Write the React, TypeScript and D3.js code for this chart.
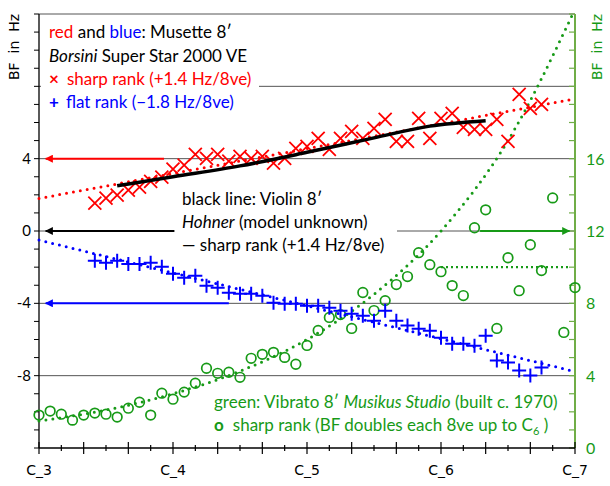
import { useEffect, useRef } from 'react';
import * as d3 from 'd3';

// x positions: semitones above C_3 (0 = C_3 ... 48 = C_7)
const octaveLabels = ['C_3', 'C_4', 'C_5', 'C_6', 'C_7'];
const leftTickLabels = [-8, -4, 0, 4];
const rightTickLabels = [0, 4, 8, 12, 16];
const gridValues = [-8, -4, 0, 4, 8, 12];

// Musette 8' (Borsini Super Star 2000 VE), keys F3..A6, BF in Hz (left axis)
const musetteKeys = d3.range(5, 46);
const sharpRank = [
  1.54, 1.82, 1.98, 2.26, 2.42, 2.75, 2.98, 3.42, 3.64, 4.24,
  4.02, 4.24, 3.86, 4.13, 4.02, 4.13, 3.75, 4.02, 4.57, 4.68,
  5.12, 4.52, 5.12, 5.51, 5.12, 5.67, 6.17, 4.96, 4.96, 6.23,
  5.12, 6.23, 6.5, 5.73, 5.62, 5.62, 6.17, 4.96, 7.55, 6.78, 7.0
];
const flatRank = [
  -1.65, -1.76, -1.65, -1.82, -1.82, -1.76, -1.98, -2.37, -2.59, -2.48,
  -3.03, -3.14, -3.42, -3.47, -3.47, -3.58, -3.97, -4.02, -4.02, -4.13,
  -4.13, -4.24, -4.41, -4.57, -4.68, -4.96, -4.41, -4.96, -5.23, -5.4,
  -5.51, -5.9, -6.23, -6.23, -6.34, -5.79, -7.16, -7.27, -7.71, -7.99, -7.55
];
const sharpTrend = [[0, 1.8], [47.5, 7.25]];
const flatTrend = [[0, -0.5], [47.5, -7.7]];

// Violin 8' Hohner, sharp rank (left axis)
const violinKeys = [7, 12, 18, 24, 30, 35, 40];
const violinBF = [2.5, 3.0, 3.6, 4.35, 5.15, 5.8, 6.1];

// Vibrato 8' Musikus Studio, keys C3..C7 (right axis)
const vibratoKeys = d3.range(0, 49);
const vibratoBF = [
  1.82, 2.04, 1.87, 1.54, 1.82, 1.93, 1.87, 1.71, 2.2, 2.53,
  1.82, 3.03, 2.7, 3.09, 3.58, 4.41, 4.13, 4.19, 3.91, 4.96,
  5.18, 5.29, 5.01, 4.63, 5.67, 6.5, 7.22, 7.38, 6.61, 8.6,
  7.6, 8.15, 9.04, 9.48, 10.8, 10.14, 9.75, 8.98, 8.43, 12.18,
  13.17, 6.61, 10.52, 8.7, 11.24, 9.81, 13.83, 6.39, 8.87
];
const vibratoTrendKeys = [0, 6, 12, 18, 24, 30, 36, 42, 47.8];
const vibratoTrendBF = [1.5, 2.1, 3, 4.25, 6, 8.5, 12, 17, 24];
const vibratoLimit = [[36, 10], [47.5, 10]];

const RED = '#ff0000';
const BLUE = '#0000ff';
const GREEN = '#179a17';
const GREEN_AXIS = '#70ad47';

const arrows = [
  { color: RED, axis: 'left', value: 4, from: 11.2, to: 0.6 },
  { color: '#000', axis: 'left', value: 0, from: 12.1, to: 0.6 },
  { color: BLUE, axis: 'left', value: -4, from: 17, to: 0.6 },
  { color: GREEN, axis: 'right', value: 12, from: 39.5, to: 47.5 }
];

export default function App() {
  const svgRef = useRef(null);

  useEffect(() => {
    const width = 610;
    const height = 486;
    const svg = d3.select(svgRef.current);
    svg.selectAll('*').remove();
    svg.attr('width', width).attr('height', height);

    const x = d3.scaleLinear().domain([0, 48]).range([39, 575]);
    const yL = d3.scaleLinear().domain([-12, 12]).range([448, 14]);
    const yR = d3.scaleLinear().domain([0, 24]).range([448, 14]);
    const font = 'Lato, "Open Sans", sans-serif';

    const defs = svg.append('defs');
    arrows.forEach((a, i) => {
      defs.append('marker')
        .attr('id', `arrow${i}`)
        .attr('viewBox', '0 0 10 10')
        .attr('refX', 9)
        .attr('refY', 5)
        .attr('markerWidth', 5)
        .attr('markerHeight', 4)
        .attr('markerUnits', 'strokeWidth')
        .attr('orient', 'auto')
        .append('path')
        .attr('d', 'M0,0L10,5L0,10z')
        .attr('fill', a.color);
    });

    // horizontal grid
    gridValues.forEach(v => {
      svg.append('line')
        .attr('x1', x(0)).attr('x2', x(48))
        .attr('y1', yL(v)).attr('y2', yL(v))
        .attr('stroke', '#555').attr('stroke-width', 1);
    });

    // legend backgrounds hide the grid
    svg.append('rect').attr('x', 41).attr('y', 16).attr('width', 218).attr('height', 97).attr('fill', '#fff');
    svg.append('rect').attr('x', 175).attr('y', 184).attr('width', 222).attr('height', 72).attr('fill', '#fff');

    // left axis
    svg.append('line').attr('x1', x(0)).attr('x2', x(0)).attr('y1', yL(12)).attr('y2', yL(-12))
      .attr('stroke', '#000').attr('stroke-width', 1.3);
    d3.range(-12, 13).forEach(v => {
      svg.append('line').attr('x1', x(0) - 5).attr('x2', x(0)).attr('y1', yL(v)).attr('y2', yL(v))
        .attr('stroke', '#000').attr('stroke-width', 1);
    });
    leftTickLabels.forEach(v => {
      svg.append('text')
        .attr('x', 31).attr('y', yL(v) + 5)
        .attr('text-anchor', 'end')
        .style('font-family', font).style('font-size', '15px')
        .text(v);
    });

    // right axis
    svg.append('line').attr('x1', x(48)).attr('x2', x(48)).attr('y1', yR(24)).attr('y2', yR(0))
      .attr('stroke', GREEN_AXIS).attr('stroke-width', 2);
    d3.range(0, 25).forEach(v => {
      svg.append('line').attr('x1', x(48) - 6).attr('x2', x(48)).attr('y1', yR(v)).attr('y2', yR(v))
        .attr('stroke', GREEN_AXIS).attr('stroke-width', 1.2);
    });
    rightTickLabels.forEach(v => {
      svg.append('text')
        .attr('x', 586).attr('y', yR(v) + 6)
        .attr('fill', GREEN)
        .style('font-family', font).style('font-size', '16px')
        .text(v);
    });

    // bottom axis
    svg.append('line').attr('x1', x(0)).attr('x2', x(48)).attr('y1', yL(-12)).attr('y2', yL(-12))
      .attr('stroke', '#000').attr('stroke-width', 1.3);
    d3.range(0, 49, 2).forEach(s => {
      const len = s % 4 === 0 ? 6 : 3;
      svg.append('line').attr('x1', x(s)).attr('x2', x(s))
        .attr('y1', yL(-12) - len).attr('y2', yL(-12) + len)
        .attr('stroke', '#000').attr('stroke-width', 1.2);
    });
    octaveLabels.forEach((lab, i) => {
      svg.append('text')
        .attr('x', x(i * 12)).attr('y', 475)
        .attr('text-anchor', 'middle')
        .style('font-family', '"DejaVu Sans", sans-serif').style('font-size', '14px')
        .text(lab);
    });

    // axis titles
    svg.append('text')
      .attr('transform', 'translate(19,47) rotate(-90)')
      .attr('text-anchor', 'middle')
      .style('font-family', '"DejaVu Sans", sans-serif').style('font-size', '14px')
      .text('BF\u00a0\u00a0in\u00a0\u00a0Hz');
    svg.append('text')
      .attr('transform', 'translate(602,47) rotate(-90)')
      .attr('text-anchor', 'middle')
      .attr('fill', GREEN)
      .style('font-family', '"DejaVu Sans", sans-serif').style('font-size', '14px')
      .text('BF\u00a0\u00a0in\u00a0\u00a0Hz');

    // arrows pointing at the axis each series is read against
    arrows.forEach((a, i) => {
      const yy = a.axis === 'left' ? yL(a.value) : yR(a.value);
      svg.append('line')
        .attr('x1', x(a.from)).attr('x2', x(a.to))
        .attr('y1', yy).attr('y2', yy)
        .attr('stroke', a.color).attr('stroke-width', 2)
        .attr('marker-end', `url(#arrow${i})`);
    });

    const dotted = (pts, yScale, color, curve = d3.curveLinear) => {
      const line = d3.line().x(d => x(d[0])).y(d => yScale(d[1])).curve(curve);
      svg.append('path')
        .attr('d', line(pts))
        .attr('fill', 'none')
        .attr('stroke', color)
        .attr('stroke-width', 3)
        .attr('stroke-linecap', 'round')
        .attr('stroke-dasharray', '0 7');
    };

    // green: Vibrato
    dotted(vibratoTrendKeys.map((s, i) => [s, vibratoTrendBF[i]]), yR, GREEN, d3.curveMonotoneX);
    svg.append('path')
      .attr('d', d3.line().x(d => x(d[0])).y(d => yR(d[1]))(vibratoLimit))
      .attr('fill', 'none').attr('stroke', GREEN).attr('stroke-width', 2.2)
      .attr('stroke-dasharray', '2 3');
    svg.append('g').selectAll('circle')
      .data(vibratoKeys)
      .join('circle')
      .attr('cx', s => x(s))
      .attr('cy', (s, i) => yR(vibratoBF[i]))
      .attr('r', 4.8)
      .attr('fill', 'none')
      .attr('stroke', GREEN)
      .attr('stroke-width', 1.7);

    // blue: flat rank
    dotted(flatTrend, yL, BLUE);
    svg.append('g').selectAll('path')
      .data(musetteKeys)
      .join('path')
      .attr('transform', (s, i) => `translate(${x(s)},${yL(flatRank[i])})`)
      .attr('d', 'M-7,0H7M0,-7V7')
      .attr('stroke', BLUE)
      .attr('stroke-width', 2);

    // red: sharp rank
    dotted(sharpTrend, yL, RED);
    svg.append('g').selectAll('path')
      .data(musetteKeys)
      .join('path')
      .attr('transform', (s, i) => `translate(${x(s)},${yL(sharpRank[i])})`)
      .attr('d', 'M-6.5,-6.5L6.5,6.5M-6.5,6.5L6.5,-6.5')
      .attr('stroke', RED)
      .attr('stroke-width', 1.8);

    // black: Violin
    svg.append('path')
      .attr('d', d3.line().x(d => x(d[0])).y(d => yL(d[1])).curve(d3.curveMonotoneX)(
        violinKeys.map((s, i) => [s, violinBF[i]])))
      .attr('fill', 'none')
      .attr('stroke', '#000')
      .attr('stroke-width', 3.5);

    // legends
    const text = (tx, ty, parts, color = '#000') => {
      const t = svg.append('text')
        .attr('x', tx).attr('y', ty)
        .attr('fill', color)
        .style('font-family', font).style('font-size', '17px');
      parts.forEach(p => {
        const sp = t.append('tspan').text(p.t);
        if (p.c) sp.attr('fill', p.c);
        if (p.i) sp.style('font-style', 'italic');
        if (p.b) sp.style('font-weight', 'bold');
        if (p.sub) sp.style('font-size', '11px').attr('dy', 4);
        if (p.up) sp.attr('dy', -4);
        if (p.dx) sp.attr('dx', p.dx);
      });
      return t;
    };

    text(49, 38, [{ t: 'red', c: RED }, { t: ' and ' }, { t: 'blue', c: BLUE }, { t: ': Musette 8′' }]);
    text(49, 62, [{ t: 'Borsini', i: true }, { t: ' Super Star 2000 VE' }]);
    text(49, 85, [{ t: '×', b: true }, { t: 'sharp rank (+1.4 Hz/8ve)', dx: 8 }], RED);
    text(49, 108, [{ t: '+', b: true }, { t: 'flat rank (−1.8 Hz/8ve)', dx: 7 }], BLUE);

    text(182, 205, [{ t: 'black line: Violin 8′' }]);
    text(182, 228, [{ t: 'Hohner', i: true }, { t: ' (model unknown)' }]);
    text(182, 251, [{ t: '— sharp rank (+1.4 Hz/8ve)' }]);

    text(214, 408, [{ t: 'green: Vibrato 8′ ' }, { t: 'Musikus Studio', i: true }, { t: ' (built c. 1970)' }], GREEN);
    text(214, 431, [{ t: 'o', b: true }, { t: 'sharp rank (BF doubles each 8ve up to C', dx: 9 }, { t: '6', sub: true }, { t: ' )', up: true }], GREEN);
  }, []);

  return <svg ref={svgRef} style={{ position: 'absolute', left: 0, top: 0, background: '#fff' }}></svg>;
}
